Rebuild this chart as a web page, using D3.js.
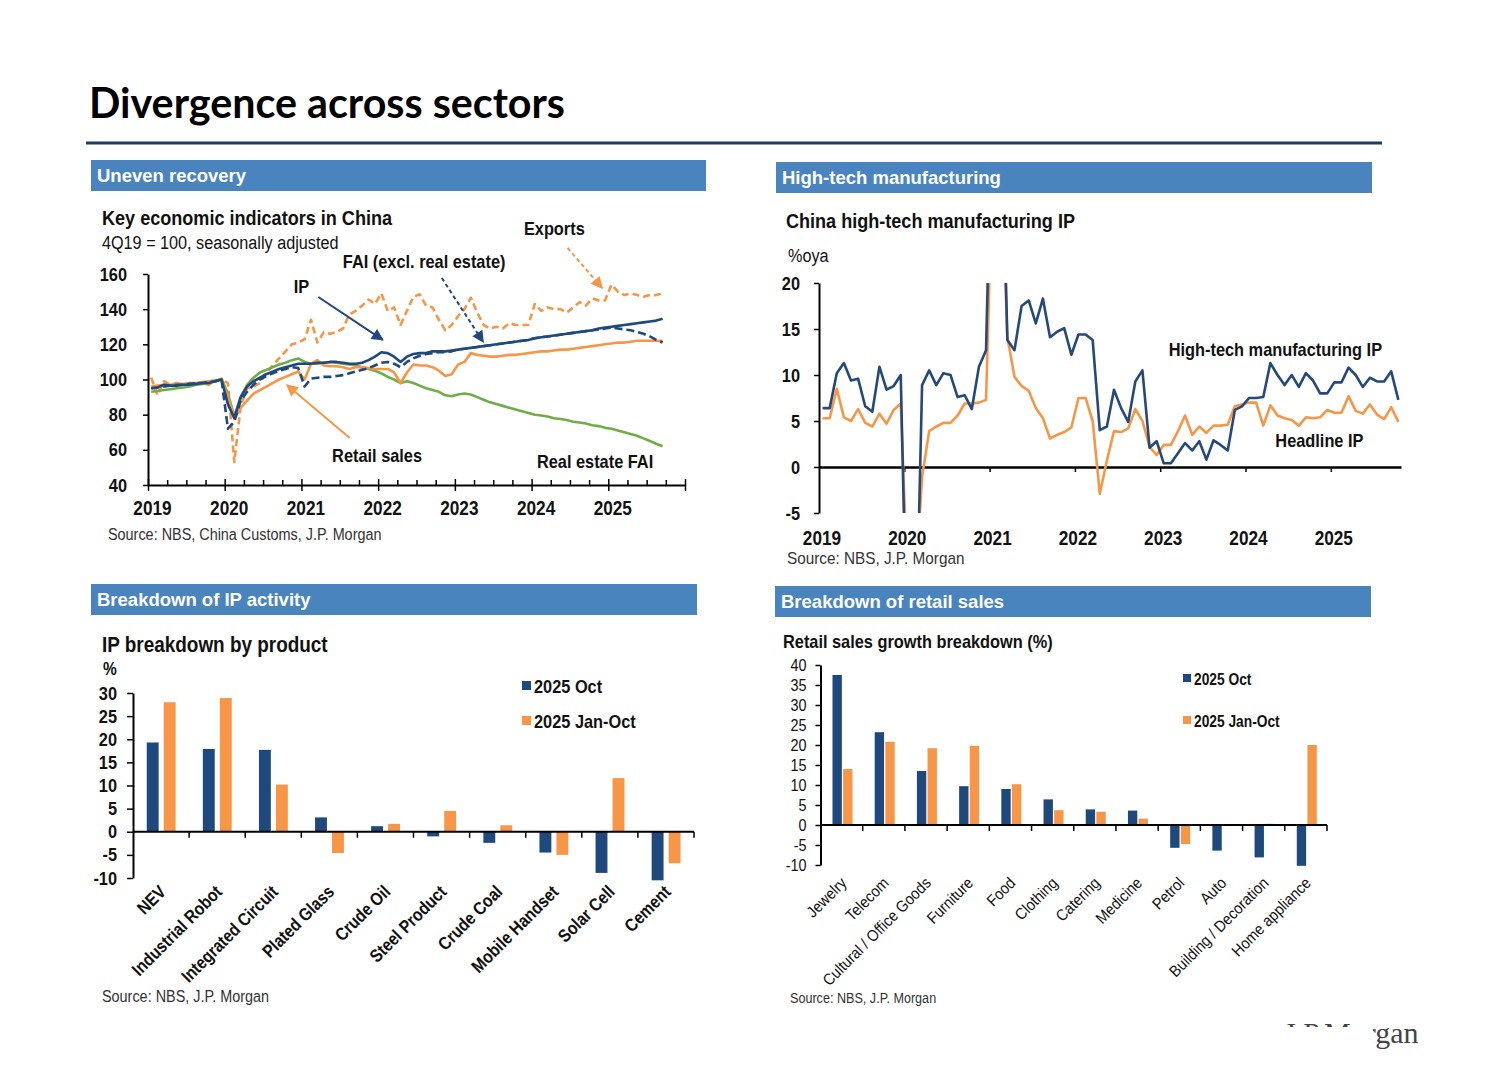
<!DOCTYPE html>
<html>
<head>
<meta charset="utf-8">
<script src="https://cdn.jsdelivr.net/npm/d3@7"></script>
<style>
  body { margin: 0; background: #fff; }
  svg text { font-family: 'Liberation Sans', Arial, sans-serif; fill: #111; }
</style>
</head>
<body>
<div id="visContainer"></div>
<script>
// ---- chart 1: key indicators, monthly Jan 2019 - Sep 2025, 4Q19 = 100
const ipIndex = [
  95, 95.5, 97, 96.5, 96.5, 97, 97, 97.5, 98, 98, 99, 100,
  86, 78, 90, 96, 99, 101, 103, 104.5, 106, 107, 108, 109,
  109, 109, 109.5, 109.5, 110, 110, 109.5, 109, 109, 109.5, 111, 113,
  115.5, 115, 113, 110, 113, 114.5, 115, 115, 116, 116, 116, 116.5,
  117, 117.5, 118, 118.5, 119, 119.5, 120, 120.5, 121, 121.5, 122, 122.5,
  123.5, 124, 124.5, 125, 125.5, 126, 126.5, 127, 127.5, 128, 129, 129.5,
  130, 130.5, 131, 131.5, 132, 132.5, 133, 133.5, 134.5
];
const faiExRe = [
  95, 95.5, 96, 96.5, 97, 97, 97.5, 98, 98, 98.5, 99, 100,
  72, 76, 88, 93, 97, 100, 102, 103.5, 105, 106, 107, 106.5,
  96, 100.5, 101, 101.5, 101.5, 102, 102.5, 103.5, 104.5, 105.5, 106.5, 108,
  109.5, 110, 109, 107, 110, 112, 113.5, 114.5, 115, 115.5, 115.5, 116,
  117, 117.5, 118, 118.5, 119, 119.5, 120, 120.5, 121, 121.5, 122, 122.5,
  123.5, 124, 124.5, 125, 125.5, 126, 126.5, 127, 127.5, 128, 128.5, 129,
  129.5, 129, 128.5, 128, 127, 126, 124.5, 122.5, 121
];
const retailSales = [
  96, 96.5, 97, 97, 97.5, 97.5, 98, 98, 98.5, 99, 99.5, 100,
  90, 78, 84, 88, 92, 94, 96, 98, 100, 101.5, 103, 104.5,
  100, 109, 111, 108, 107.5, 107.5, 107, 106, 107, 107, 106.5, 106,
  106, 106, 104, 98, 104, 108.5, 108, 108, 107, 105, 102, 103,
  108.5, 110, 115, 114, 113.5, 113, 113, 113.5, 114, 114, 114.5, 115,
  115.5, 116, 116, 116.5, 117, 117, 117.5, 118, 118.5, 119, 119.5, 120,
  120.5, 121, 121, 121.5, 122, 122, 122, 122, 122
];
const exportsIdx = [
  101, 91, 99, 97, 98, 97, 98, 97, 98, 97, 99, 100,
  98, 53, 85, 95, 96, 98, 104, 108, 112, 116, 120, 121,
  123, 134, 121, 127, 126, 127, 129, 137, 139, 142, 145.5, 143,
  149, 139, 141, 131, 139, 147, 148.5, 142, 141, 134, 128, 131,
  136, 140, 146.5, 138, 131, 129, 130, 129, 132, 131, 131, 131,
  143, 139, 141, 140, 140, 138, 141, 144, 142, 146, 145, 145,
  154, 150, 148, 149, 148, 147, 148, 148, 149
];
const realEstateFai = [
  93, 93.5, 94, 94.5, 95, 95.5, 96, 97, 97.5, 98, 99, 100.5,
  92, 79, 90, 97, 101, 104, 105.5, 107, 108.5, 109.5, 111, 112,
  110, 109, 109, 109.5, 110, 109.5, 109, 108.5, 108, 107, 106, 105,
  103.5, 101.5, 100, 98, 99, 98, 96.5, 95, 94, 93, 91, 90.5,
  91.5, 92, 91.5, 90, 88.5, 87, 86, 85, 84, 83, 82, 81,
  80, 79.5, 79, 78, 77.5, 77, 76, 75.5, 75, 74, 73.5, 72.5,
  72, 71, 70, 69, 68, 66.5, 65, 63.5, 62
];
const yearTicks1 = [2019, 2020, 2021, 2022, 2023, 2024, 2025];
const yTicks1 = [40, 60, 80, 100, 120, 140, 160];

// ---- chart 2: high-tech vs headline IP, %oya, Jan 2019 - Oct 2025
const hiTechIp = [
  6.4, 6.4, 10.2, 11.3, 9.4, 9.6, 6.6, 6.0, 10.9, 8.4, 8.8, 10.0,
  -24.5, -24.5, 8.9, 10.5, 8.9, 10.2, 10.0, 7.6, 7.8, 6.3, 10.9, 12.7,
  45, 45, 13.8, 12.7, 17.5, 18.1, 15.6, 18.3, 14.1, 14.7, 15.1, 12.2,
  14.4, 14.4, 13.8, 4.0, 4.4, 8.4, 6.4, 4.9, 9.3, 10.5, 2.1, 2.8,
  0.4, 0.4, 1.5, 2.6, 1.8, 2.8, 0.8, 2.9, 2.4, 1.8, 6.2, 6.6,
  7.5, 7.5, 7.6, 11.3, 10.0, 8.9, 10.0, 8.7, 10.2, 9.4, 8.0, 8.0,
  9.2, 9.2, 10.8, 10.0, 8.7, 9.7, 9.3, 9.3, 10.4, 7.3
];
const headlineIp = [
  5.3, 5.3, 8.5, 5.4, 5.0, 6.3, 4.8, 4.4, 5.8, 4.7, 6.2, 6.9,
  -13.5, -13.5, -1.1, 3.9, 4.4, 4.8, 4.8, 5.6, 6.9, 6.9, 7.0, 7.3,
  35.1, 35.1, 14.1, 9.8, 8.8, 8.3, 6.4, 5.3, 3.1, 3.5, 3.8, 4.3,
  7.5, 7.5, 5.0, -2.9, 0.7, 3.9, 3.8, 4.2, 6.3, 5.0, 2.2, 1.3,
  2.4, 2.4, 3.9, 5.6, 3.5, 4.4, 3.7, 4.5, 4.5, 4.6, 6.6, 6.8,
  7.0, 7.0, 4.5, 6.7, 5.6, 5.3, 5.1, 4.5, 5.4, 5.3, 5.4, 6.2,
  5.9, 5.9, 7.7, 6.1, 5.8, 6.8, 5.7, 5.2, 6.5, 4.9
];
const yTicks2 = [-5, 0, 5, 10, 15, 20];

// ---- chart 3: IP breakdown by product, %
const ipProducts = ["NEV", "Industrial Robot", "Integrated Circuit", "Plated Glass", "Crude Oil",
  "Steel Product", "Crude Coal", "Mobile Handset", "Solar Cell", "Cement"];
const ipOct = [19.3, 17.9, 17.7, 3.1, 1.2, -1.0, -2.4, -4.5, -8.9, -10.5];
const ipJanOct = [28.0, 28.9, 10.2, -4.6, 1.7, 4.5, 1.4, -5.0, 11.6, -6.8];
const yTicks3 = [-10, -5, 0, 5, 10, 15, 20, 25, 30];

// ---- chart 4: retail sales growth breakdown, %
const retailCats = ["Jewelry", "Telecom", "Cultural / Office Goods", "Furniture", "Food", "Clothing",
  "Catering", "Medicine", "Petrol", "Auto", "Building / Decoration", "Home appliance"];
const retailOct = [37.5, 23.2, 13.5, 9.7, 9.0, 6.4, 3.9, 3.6, -5.7, -6.4, -8.1, -10.2];
const retailJanOct = [14.0, 20.8, 19.2, 19.8, 10.2, 3.7, 3.3, 1.6, -4.75, -0.2, 0.3, 20.0];
const yTicks4 = [-10, -5, 0, 5, 10, 15, 20, 25, 30, 35, 40];

const seriesNames = ["2025 Oct", "2025 Jan-Oct"];

const NAVY = "#1f497d";
const ORANGE = "#f79646";
const GREEN = "#70ad47";
const HEADER = "#4a84bf";
const plain = d => String(d); // hyphen minus like the slide

const svg = d3.select("#visContainer").append("svg")
  .attr("width", 1485).attr("height", 1080);

const defs = svg.append("defs");
[["arrNavy", NAVY], ["arrOrange", ORANGE]].forEach(([id, c]) => {
  defs.append("marker").attr("id", id)
    .attr("viewBox", "0 0 10 10").attr("refX", 9).attr("refY", 5)
    .attr("markerWidth", 7).attr("markerHeight", 6).attr("markerUnits", "strokeWidth")
    .attr("orient", "auto")
    .append("path").attr("d", "M0,0 L10,5 L0,10 z").attr("fill", c);
});

function txt(g, x, y, s, size, weight, anchor) {
  return g.append("text").attr("x", x).attr("y", y).text(s).attr("class", "n")
    .style("font-size", size + "px").style("font-weight", weight || "normal")
    .attr("text-anchor", anchor || "start");
}

// page title + rule
svg.append("text").attr("x", 89).attr("y", 118).text("Divergence across sectors")
  .attr("textLength", 476).attr("lengthAdjust", "spacingAndGlyphs")
  .style("font-family", "Lato, 'Open Sans', sans-serif").style("font-weight", 700)
  .style("font-size", "42px").style("fill", "#000");
svg.append("line").attr("x1", 86).attr("x2", 1382).attr("y1", 143).attr("y2", 143)
  .attr("stroke", "#1f3864").attr("stroke-width", 3);

// section headers
[[91, 160, 615, "Uneven recovery"], [776, 162, 596, "High-tech manufacturing"],
 [91, 584, 606, "Breakdown of IP activity"], [775, 586, 596, "Breakdown of retail sales"]]
  .forEach(([x, y, w, s]) => {
    svg.append("rect").attr("x", x).attr("y", y).attr("width", w).attr("height", 31).attr("fill", HEADER);
    svg.append("text").attr("x", x + 6).attr("y", y + 22).text(s)
      .style("font-weight", "bold").style("font-size", "18.5px").style("fill", "#fff");
  });

function styleAxis(g, size, weight) {
  g.select(".domain").attr("stroke", "#000").attr("stroke-width", 2);
  g.selectAll(".tick line").attr("stroke", "#000").attr("stroke-width", 1.5);
  g.selectAll(".tick text").attr("class", "n").style("font-size", size + "px")
    .style("font-weight", weight).style("fill", "#111");
}

// ================= chart 1 =================
{
  const g = svg.append("g");
  const x = d3.scaleLinear().domain([2019, 2026]).range([148, 685]);
  const y = d3.scaleLinear().domain([40, 160]).range([485, 274]);
  const mx = i => x(2019 + (i + 0.5) / 12);

  txt(g, 102, 225, "Key economic indicators in China", 21, "bold");
  txt(g, 102, 249, "4Q19 = 100, seasonally adjusted", 18);

  const yAx = g.append("g").attr("transform", "translate(148,0)")
    .call(d3.axisLeft(y).tickValues(yTicks1).tickSize(5).tickSizeOuter(0).tickPadding(16).tickFormat(plain));
  styleAxis(yAx, 19, "bold");

  const minor = d3.range(2019, 2026, 0.25).filter(v => v % 1 !== 0);
  const xMinor = g.append("g").attr("transform", "translate(0,485)")
    .call(d3.axisBottom(x).tickValues(minor).tickSize(-5).tickFormat(""));
  xMinor.select(".domain").remove();
  xMinor.selectAll(".tick line").attr("stroke", "#000").attr("stroke-width", 1.5);
  const xAx = g.append("g").attr("transform", "translate(0,485)")
    .call(d3.axisBottom(x).tickValues(yearTicks1.concat([2026])).tickSize(6).tickSizeOuter(0).tickPadding(10)
      .tickFormat(d => d < 2026 ? plain(d) : ""));
  styleAxis(xAx, 20, "bold");
  xAx.selectAll(".tick line").attr("y1", -6);
  xAx.selectAll(".tick text").attr("dx", 4);

  const line = d3.line().x((d, i) => mx(i)).y(d => y(d));
  const plot = (data, color, dash) => g.append("path").datum(data).attr("d", line)
    .attr("fill", "none").attr("stroke", color).attr("stroke-width", 2.6)
    .attr("stroke-dasharray", dash || null).attr("stroke-linejoin", "round");
  plot(exportsIdx, ORANGE, "7,4");
  plot(realEstateFai, GREEN);
  plot(retailSales, ORANGE);
  plot(faiExRe, NAVY, "8,4");
  plot(ipIndex, NAVY);

  // annotations in data coordinates
  const labels1 = [["IP", 2020.9, 149.2], ["FAI (excl. real estate)", 2021.54, 163.4], ["Exports", 2023.9, 182.2],
    ["Retail sales", 2021.4, 53.1], ["Real estate FAI", 2024.07, 49.7]];
  labels1.forEach(([s, a, b]) => txt(g, x(a), y(b), s, 19, "bold"));
  const arrows1 = [[2021.22, 146.9, 2022.06, 122.5, NAVY, null, "arrNavy"],
    [2022.83, 157.7, 2023.37, 121.3, NAVY, "4,3", "arrNavy"],
    [2024.47, 174.8, 2024.92, 152, ORANGE, "4,3", "arrOrange"],
    [2021.63, 66.7, 2020.81, 96.9, ORANGE, null, "arrOrange"]];
  arrows1.forEach(([a1, b1, a2, b2, c, dash, m]) => g.append("line")
    .attr("x1", x(a1)).attr("y1", y(b1)).attr("x2", x(a2)).attr("y2", y(b2))
    .attr("stroke", c).attr("stroke-width", 2).attr("stroke-dasharray", dash)
    .attr("marker-end", `url(#${m})`));

  txt(g, 108, 540, "Source: NBS, China Customs, J.P. Morgan", 16).style("fill", "#333");
}

// ================= chart 2 =================
{
  const g = svg.append("g");
  const x = d3.scaleLinear().domain([2019, 2019 + 582 / 85.3]).range([819, 1401]);
  const y = d3.scaleLinear().domain([-5, 20]).range([513, 283]);
  const mx = i => x(2019 + (i + 0.5) / 12);

  txt(g, 786, 228, "China high-tech manufacturing IP", 21, "bold");
  txt(g, 788, 262, "%oya", 18);

  defs.append("clipPath").attr("id", "clip2").append("rect")
    .attr("x", 819).attr("y", 283).attr("width", 582).attr("height", 230);

  const yAx = g.append("g").attr("transform", "translate(819,0)")
    .call(d3.axisLeft(y).tickValues(yTicks2).tickSize(5).tickSizeOuter(0).tickPadding(14).tickFormat(plain));
  styleAxis(yAx, 19, "bold");

  const xAx = g.append("g").attr("transform", `translate(0,${y(0)})`)
    .call(d3.axisBottom(x).tickValues(yearTicks1.slice(1)).tickSize(5).tickSizeOuter(0).tickFormat(""));
  styleAxis(xAx, 19, "bold");
  xAx.select(".domain").attr("stroke-width", 2.5);
  yearTicks1.forEach(yr => txt(g, x(yr) + 3, 545, yr, 20, "bold", "middle"));

  const line = d3.line().x((d, i) => mx(i)).y(d => y(d));
  const lines = g.append("g").attr("clip-path", "url(#clip2)");
  lines.append("path").datum(headlineIp).attr("d", line).attr("fill", "none")
    .attr("stroke", ORANGE).attr("stroke-width", 2.6).attr("stroke-linejoin", "round");
  lines.append("path").datum(hiTechIp).attr("d", line).attr("fill", "none")
    .attr("stroke", "#24497a").attr("stroke-width", 2.6).attr("stroke-linejoin", "round");

  txt(g, x(2023.1), y(12.07), "High-tech manufacturing IP", 19, "bold");
  txt(g, x(2024.35), y(2.17), "Headline IP", 19, "bold");
  txt(g, 787, 564, "Source: NBS, J.P. Morgan", 17).style("fill", "#333");
}

// grouped bar helper
function barChart(opt) {
  const g = svg.append("g");
  const x = d3.scaleBand().domain(opt.cats).range(opt.xRange).paddingInner(0).paddingOuter(0);
  const y = d3.scaleLinear().domain(opt.yDomain).range(opt.yRange);
  const xs = d3.scaleBand().domain(seriesNames)
    .range([x.bandwidth() * opt.inner[0], x.bandwidth() * opt.inner[1]]).paddingInner(opt.gap);

  const yAx = g.append("g").attr("transform", `translate(${opt.xRange[0]},0)`)
    .call(d3.axisLeft(y).tickValues(opt.yTicks).tickSize(opt.tick).tickSizeOuter(0).tickPadding(opt.pad).tickFormat(plain));
  styleAxis(yAx, opt.yFont, opt.yWeight);

  const rows = opt.cats.map((c, i) => ({ cat: c, vals: [opt.a[i], opt.b[i]] }));
  const grp = g.selectAll("g.cat").data(rows).join("g").attr("class", "cat")
    .attr("transform", d => `translate(${x(d.cat)},0)`);
  grp.selectAll("rect").data(d => d.vals.map((v, k) => ({ k: seriesNames[k], v })))
    .join("rect")
    .attr("x", d => xs(d.k)).attr("width", xs.bandwidth())
    .attr("y", d => y(Math.max(0, d.v)))
    .attr("height", d => Math.abs(y(d.v) - y(0)))
    .attr("fill", d => d.k === seriesNames[0] ? NAVY : ORANGE);

  // category axis on zero line, ticks at band edges
  const edges = opt.cats.map(c => x(c)).concat([opt.xRange[1]]);
  g.append("line").attr("x1", opt.xRange[0]).attr("x2", opt.xRange[1])
    .attr("y1", y(0)).attr("y2", y(0)).attr("stroke", "#000").attr("stroke-width", 2);
  g.selectAll("line.edge").data(edges.slice(1)).join("line").attr("class", "edge")
    .attr("x1", d => d).attr("x2", d => d).attr("y1", y(0)).attr("y2", y(0) + 6)
    .attr("stroke", "#000").attr("stroke-width", 1.5);

  g.selectAll("text.cat").data(opt.cats).join("text").attr("class", "cat n")
    .attr("text-anchor", "end")
    .attr("transform", d => `translate(${x(d) + x.bandwidth() / 2 + opt.lblDx},${opt.lblY}) rotate(-45)`)
    .text(d => d)
    .style("font-size", opt.xFont + "px").style("font-weight", opt.xWeight);

  // legend
  seriesNames.forEach((s, k) => {
    g.append("rect").attr("x", opt.leg[0]).attr("y", opt.leg[1] + k * opt.leg[2])
      .attr("width", opt.leg[3]).attr("height", opt.leg[3]).attr("fill", k ? ORANGE : NAVY);
    txt(g, opt.leg[0] + opt.leg[3] + 3, opt.leg[1] + k * opt.leg[2] + opt.leg[3] + 3, s, opt.legFont, "bold");
  });
  return g;
}

// ================= chart 3 =================
{
  const g = barChart({
    cats: ipProducts, a: ipOct, b: ipJanOct,
    xRange: [133, 694], yDomain: [-10, 30], yRange: [878, 693], yTicks: yTicks3,
    inner: [0.245, 0.76], gap: 0.3, tick: 6, pad: 10, yFont: 19, yWeight: "bold",
    lblDx: 6, lblY: 893, xFont: 18, xWeight: "bold",
    leg: [522, 681, 35, 9], legFont: 19
  });
  txt(g, 102, 652, "IP breakdown by product", 22, "bold");
  txt(g, 103, 675, "%", 18, "bold");
  txt(g, 102, 1002, "Source: NBS, J.P. Morgan", 16).style("fill", "#333");
}

// ================= chart 4 =================
{
  const g = barChart({
    cats: retailCats, a: retailOct, b: retailJanOct,
    xRange: [820.5, 1327], yDomain: [-10, 40], yRange: [865, 665], yTicks: yTicks4,
    inner: [0.284, 0.758], gap: 0.12, tick: 5, pad: 9, yFont: 16, yWeight: "normal",
    lblDx: 6, lblY: 884, xFont: 16, xWeight: "normal",
    leg: [1183, 674, 42, 8], legFont: 16
  });
  txt(g, 783, 648, "Retail sales growth breakdown (%)", 19, "bold");
  txt(g, 790, 1003, "Source: NBS, J.P. Morgan", 14).style("fill", "#333");
}

// logo, partly covered as in the slide
svg.append("text").attr("x", 1284).attr("y", 1043).text("J.P.Morgan")
  .style("font-family", "'Liberation Serif', 'DejaVu Serif', serif").style("font-size", "30px").style("fill", "#444");
svg.append("rect").attr("x", 1280).attr("y", 1027).attr("width", 93).attr("height", 30).attr("fill", "#fff");

// condense chart text to an Arial Narrow-like width
svg.selectAll("text.n").each(function () {
  const w = this.getComputedTextLength();
  const bold = this.style.fontWeight === "bold";
  if (w > 0) d3.select(this).attr("textLength", w * (bold ? 0.86 : 0.9)).attr("lengthAdjust", "spacingAndGlyphs");
});
</script>
</body>
</html>
